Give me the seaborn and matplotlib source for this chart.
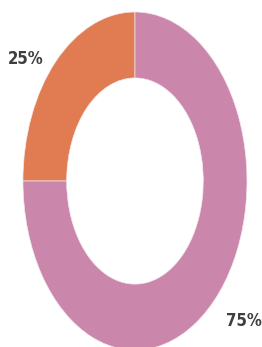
import numpy as np
import matplotlib
matplotlib.use("Agg")
import matplotlib.pyplot as plt
import seaborn as sns

sns.set_style("white")
plt.rcParams['font.family'] = ['DejaVu Sans']

# data
labels = ['25%', '75%']
values = [25, 75]
colors = ['#E07B52', '#CB86AB']

fig = plt.figure(figsize=(2.62, 3.47), dpi=100)
ax = fig.add_axes([0, 0, 1, 1])

wedges, _ = ax.pie(values, colors=colors, startangle=90, counterclock=True,
                   radius=1, wedgeprops=dict(width=0.39, edgecolor='#f3e6ea', linewidth=0.5))

# labels outside the ring (axes is stretched, so separate x/y distance)
# outer edge of each label lines up with the figure margin
for w, lab in zip(wedges, labels):
    ang = np.deg2rad((w.theta1 + w.theta2) / 2)
    ha = 'left' if np.cos(ang) < 0 else 'right'
    ax.text(1.60 * np.cos(ang), 1.10 * np.sin(ang), lab, ha=ha, va='top',
            fontsize=12, fontstretch='condensed', fontweight='semibold', color='#3f3f3f')

ax.set_aspect('auto')
ax.set_xlim(-1.205, 1.134)
ax.set_ylim(-0.982, 1.071)
ax.axis('off')

fig.savefig('out.png', dpi=100)
